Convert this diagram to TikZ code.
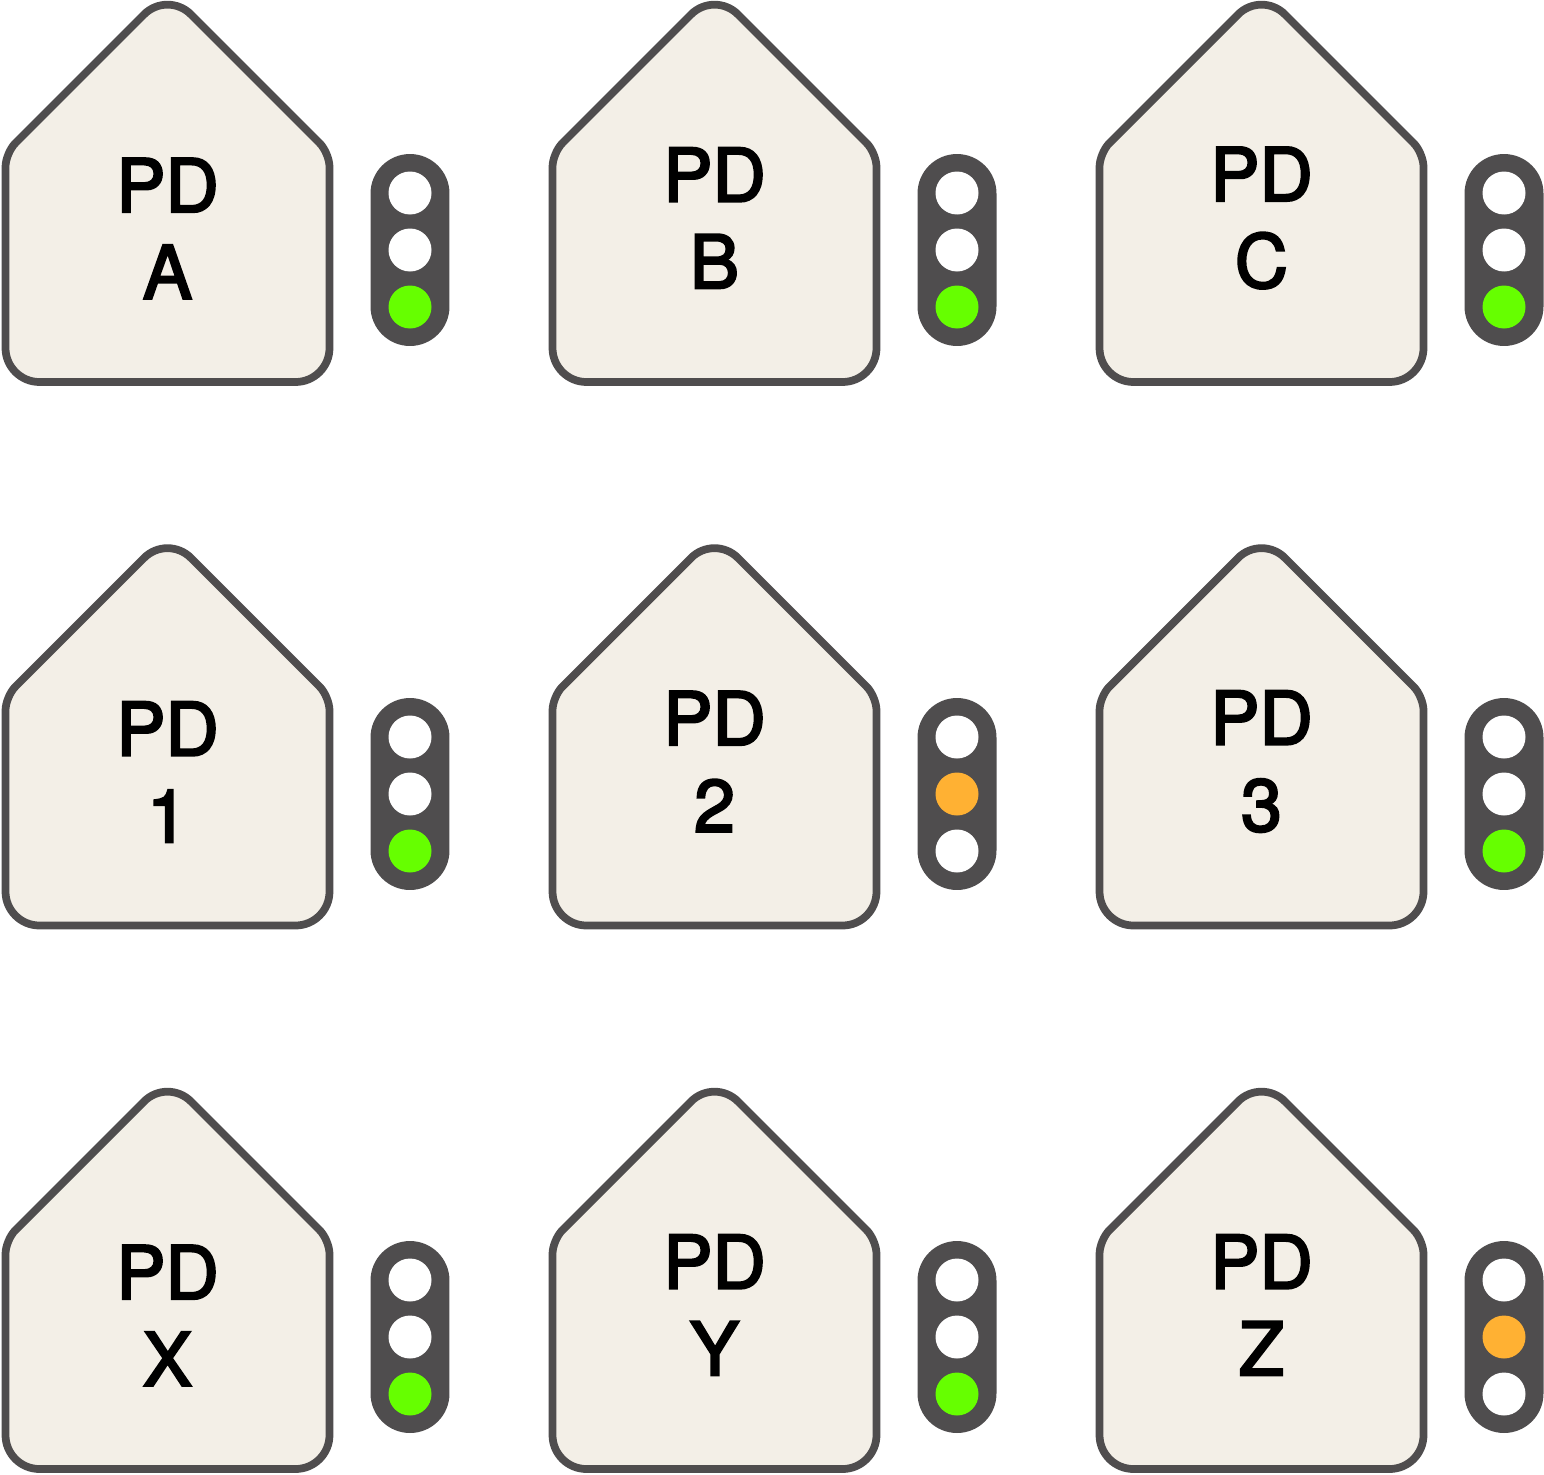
\documentclass[tikz,border=0pt]{standalone}
\usepackage{fontspec}
\setmainfont{TeX Gyre Heros}
\newfontfamily\pdfont[FakeBold=3]{TeX Gyre Heros}
\usepackage{xcolor}
\definecolor{housefill}{HTML}{F3EFE7}
\definecolor{darkgrey}{HTML}{4F4D4E}
\definecolor{lampgreen}{HTML}{66FF00}
\definecolor{lamporange}{HTML}{FFB133}

\begin{document}
\begin{tikzpicture}[
    x=0.02cm, y=-0.02cm,
    pdlabel/.style={align=center, inner sep=0pt, font=\pdfont\fontsize{42}{49.3}\selectfont},
    lamp/.style={circle, fill=#1, minimum size=0.86cm, inner sep=0pt},
    signalbody/.style={rectangle, fill=darkgrey, rounded corners=0.79cm, minimum width=1.58cm, minimum height=3.84cm, inner sep=0pt},
    pics/house/.style={code={
        \draw[draw=darkgrey, fill=housefill, line width=0.155cm]
            (0,382) [rounded corners=0.68cm] -- (-162,382) [rounded corners=0.28cm] -- (-162,153)
            [rounded corners=0.66cm] -- (0,-9) [rounded corners=0.28cm] -- (162,153)
            [rounded corners=0.68cm] -- (162,382) [sharp corners] -- cycle;
    }},
    pics/signal/.style n args={3}{code={
        \node[signalbody] (body) at (0,0) {};
        \node[lamp=#1] (top) at (0,-57) {};
        \node[lamp=#2] (middle) at (0,0) {};
        \node[lamp=#3] (bottom) at (0,57) {};
    }}
]
\useasboundingbox (0,0) rectangle (1544,1474);

% Top row
\pic (houseA) at (167.5,0) {house};
\pic (houseB) at (714.5,0) {house};
\pic (houseC) at (1261.5,0) {house};
\node[pdlabel] (labelA) at (167.5,228.5) {PD\\A};
\node[pdlabel] (labelB) at (714.5,218) {PD\\B};
\node[pdlabel] (labelC) at (1261.5,218) {PD\\C};
\pic (signalA) at (410,250) {signal={white}{white}{lampgreen}};
\pic (signalB) at (957,250) {signal={white}{white}{lampgreen}};
\pic (signalC) at (1504,250) {signal={white}{white}{lampgreen}};

% Middle row
\pic (house1) at (167.5,543.5) {house};
\pic (house2) at (714.5,543.5) {house};
\pic (house3) at (1261.5,543.5) {house};
\node[pdlabel] (label1) at (167.5,772) {PD\\1};
\node[pdlabel] (label2) at (714.5,761.5) {PD\\2};
\node[pdlabel] (label3) at (1261.5,761.5) {PD\\3};
\pic (signal1) at (410,794) {signal={white}{white}{lampgreen}};
\pic (signal2) at (957,794) {signal={white}{lamporange}{white}};
\pic (signal3) at (1504,794) {signal={white}{white}{lampgreen}};

% Bottom row
\pic (houseX) at (167.5,1087) {house};
\pic (houseY) at (714.5,1087) {house};
\pic (houseZ) at (1261.5,1087) {house};
\node[pdlabel] (labelX) at (167.5,1315.5) {PD\\X};
\node[pdlabel] (labelY) at (714.5,1305) {PD\\Y};
\node[pdlabel] (labelZ) at (1261.5,1305) {PD\\Z};
\pic (signalX) at (410,1337) {signal={white}{white}{lampgreen}};
\pic (signalY) at (957,1337) {signal={white}{white}{lampgreen}};
\pic (signalZ) at (1504,1337) {signal={white}{lamporange}{white}};

\end{tikzpicture}
\end{document}
